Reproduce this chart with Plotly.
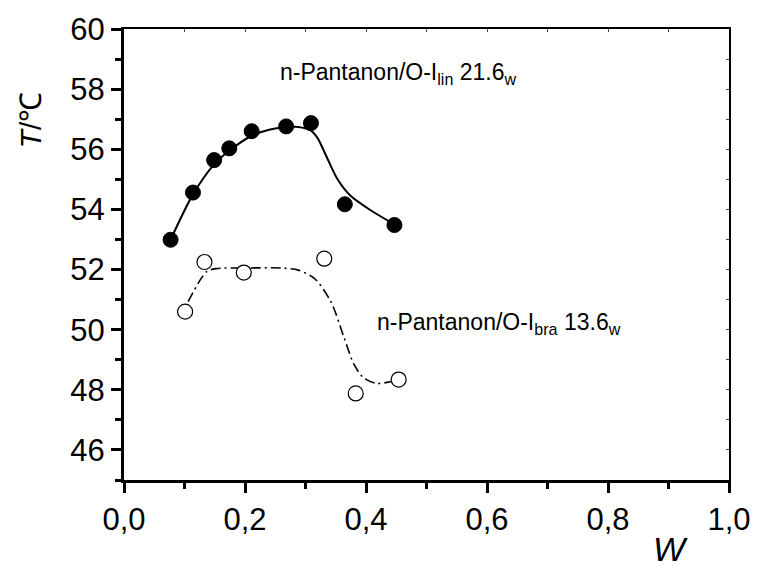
import plotly.graph_objects as go

# measured points: n-Pantanon/O-I_lin 21.6_w (filled)
w_lin = [0.077, 0.114, 0.149, 0.174, 0.211, 0.268, 0.309, 0.365, 0.447]
T_lin = [52.99, 54.56, 55.64, 56.03, 56.60, 56.76, 56.87, 54.17, 53.48]

# fitted curve (solid)
w_lin_fit = [0.077, 0.114, 0.149, 0.174, 0.211, 0.240, 0.268, 0.288, 0.309, 0.320, 0.336, 0.353, 0.374, 0.407, 0.447]
T_lin_fit = [52.99, 54.50, 55.50, 55.95, 56.45, 56.65, 56.73, 56.74, 56.62, 56.37, 55.70, 55.00, 54.46, 53.98, 53.50]

# measured points: n-Pantanon/O-I_bra 13.6_w (open)
w_bra = [0.101, 0.133, 0.198, 0.331, 0.383, 0.454]
T_bra = [50.60, 52.25, 51.90, 52.36, 47.88, 48.34]

# fitted curve (dash-dot)
w_bra_fit = [0.106, 0.136, 0.152, 0.200, 0.260, 0.288, 0.315, 0.342, 0.364, 0.380, 0.396, 0.418, 0.440, 0.449]
T_bra_fit = [50.93, 51.92, 52.03, 52.05, 52.05, 51.98, 51.70, 50.93, 49.72, 48.85, 48.40, 48.21, 48.27, 48.31]

x_ticks = [0.0, 0.2, 0.4, 0.6, 0.8, 1.0]
x_ticktext = ["0,0", "0,2", "0,4", "0,6", "0,8", "1,0"]
y_ticks = [46, 48, 50, 52, 54, 56, 58, 60]

FONT = "Liberation Sans, Arial, sans-serif"

fig = go.Figure()
fig.add_trace(go.Scatter(x=w_lin_fit, y=T_lin_fit, mode="lines", line=dict(color="black", width=2, shape="spline", smoothing=0.8), showlegend=False, hoverinfo="skip"))
fig.add_trace(go.Scatter(x=w_bra_fit, y=T_bra_fit, mode="lines", line=dict(color="black", width=1.6, shape="spline", smoothing=0.8, dash="10px,4px,2px,4px"), showlegend=False, hoverinfo="skip"))
fig.add_trace(go.Scatter(x=w_lin, y=T_lin, mode="markers", marker=dict(symbol="circle", size=15, color="black", line=dict(color="black", width=1)), showlegend=False))
fig.add_trace(go.Scatter(x=w_bra, y=T_bra, mode="markers", marker=dict(symbol="circle", size=15, color="white", line=dict(color="black", width=1.2)), showlegend=False))

# mirrored thin frame axes
fig.add_trace(go.Scatter(x=[None], y=[None], xaxis="x2", yaxis="y2", showlegend=False))

fig.update_layout(
    width=763, height=567,
    margin=dict(l=124, r=26, t=25, b=87),
    paper_bgcolor="white", plot_bgcolor="white",
    font=dict(family=FONT, color="black"),
    xaxis=dict(range=[0, 1], tickvals=x_ticks, ticktext=x_ticktext, showgrid=False, zeroline=False,
               showline=True, linecolor="black", linewidth=3, ticks="outside", ticklen=10, tickwidth=3,
               tickcolor="black", tickfont=dict(size=31, family=FONT),
               minor=dict(ticks="outside", ticklen=6, tickwidth=3, dtick=0.1, tickcolor="black")),
    yaxis=dict(range=[45, 60], tickvals=y_ticks, showgrid=False, zeroline=False,
               showline=True, linecolor="black", linewidth=3, ticks="outside", ticklen=10, tickwidth=3,
               tickcolor="black", tickfont=dict(size=31, family=FONT),
               minor=dict(ticks="outside", ticklen=6, tickwidth=3, dtick=1, tickcolor="black")),
    xaxis2=dict(range=[0, 1], overlaying="x", side="top", showline=True, linecolor="black", linewidth=1.5,
                ticks="inside", ticklen=3, dtick=0.1, showticklabels=False, showgrid=False, zeroline=False),
    yaxis2=dict(range=[45, 60], overlaying="y", side="right", showline=True, linecolor="black", linewidth=1.5,
                ticks="inside", ticklen=3, dtick=1, showticklabels=False, showgrid=False, zeroline=False),
)

fig.add_annotation(x=280, y=70, text="n-Pantanon/O-I<sub>lin</sub> 21.6<sub>w</sub>",
                   showarrow=False, xanchor="left", yanchor="middle", font=dict(size=23, family=FONT))
fig.add_annotation(x=378, y=322, text="n-Pantanon/O-I<sub>bra</sub> 13.6<sub>w</sub>", showarrow=False,
                   xanchor="left", yanchor="middle", font=dict(size=23, family=FONT))
fig.add_annotation(x=678, y=550, text="<i>W</i>", showarrow=False, xanchor="center", yanchor="middle",
                   font=dict(size=34, family=FONT))
fig.add_annotation(x=29, y=117, text="<i>T</i>/℃", showarrow=False, textangle=-90, xanchor="center", yanchor="middle",
                   font=dict(size=30, family=FONT))

# convert pixel positions of annotations to paper coordinates
W, H = 763, 567
L, R, Tm, B = 124, 26, 25, 87
pw, ph = W - L - R, H - Tm - B
for a in fig.layout.annotations:
    a.xref = "paper"
    a.yref = "paper"
    a.x = (a.x - L) / pw
    a.y = 1 - (a.y - Tm) / ph

fig.write_html("out.html")
